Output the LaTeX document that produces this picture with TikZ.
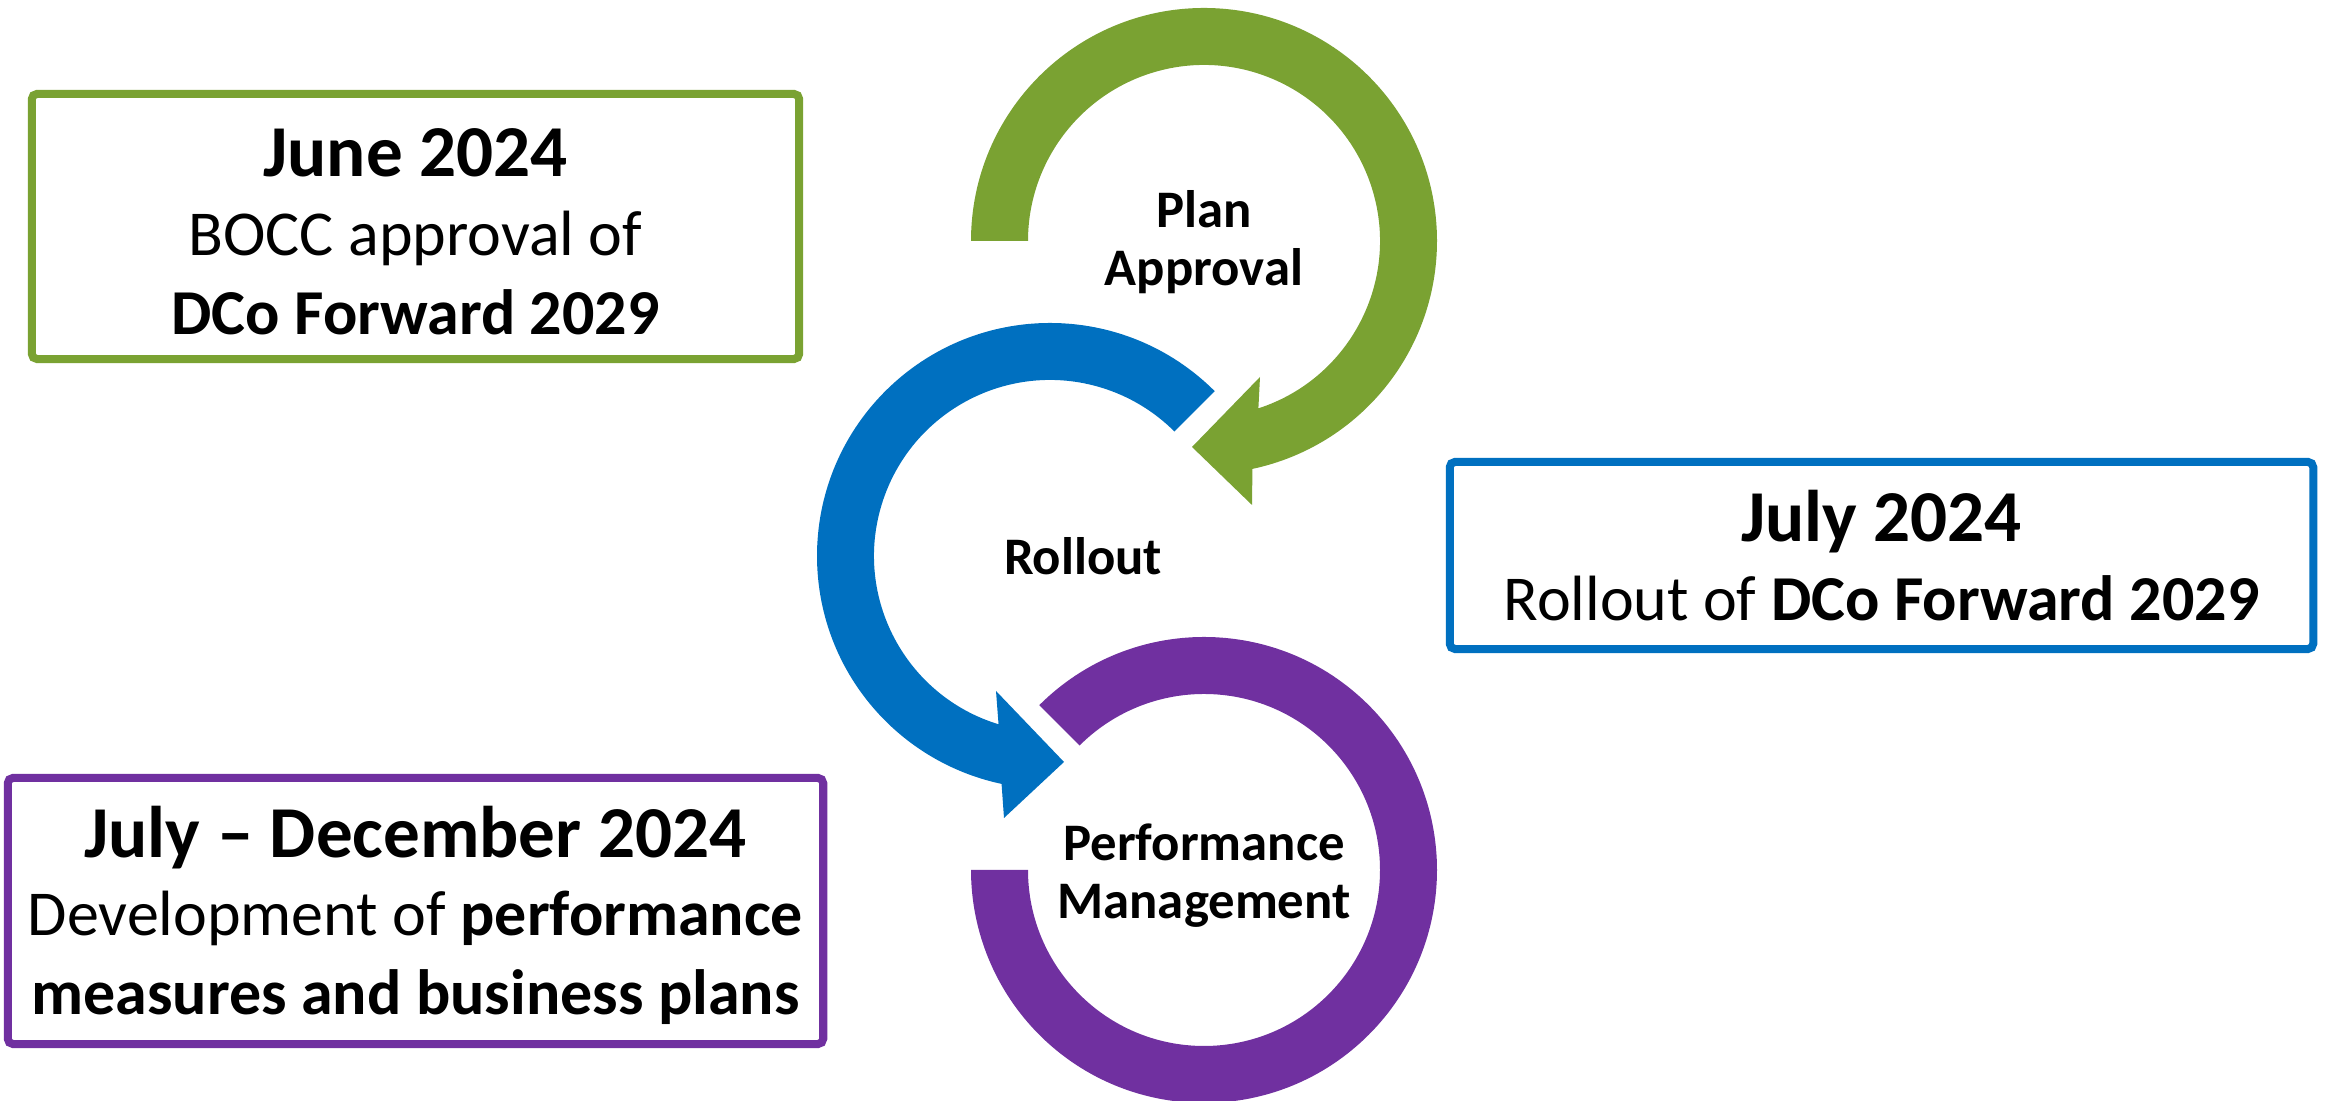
\documentclass[tikz,border=0pt]{standalone}
\usepackage{fontspec}
\setmainfont{Carlito}
\usetikzlibrary{calc}

\definecolor{greenc}{HTML}{7AA232}
\definecolor{bluec}{HTML}{0070C0}
\definecolor{purplec}{HTML}{7030A0}

\tikzset{
  datebox/.style={draw, line width=2.28pt, rounded corners=1.5pt, inner sep=0pt,
    align=center, fill=white, font=\fontsize{18.2}{22.4}\selectfont},
  steplabel/.style={align=center, inner sep=0pt,
    font=\fontsize{15}{16.5}\selectfont\bfseries},
}
\newcommand{\hdr}[1]{{\fontsize{20.8}{22.4}\selectfont\bfseries #1}}

\begin{document}
\begin{tikzpicture}[x=0.01cm, y=0.01cm]
  \useasboundingbox (0,0) rectangle (2329,1101);
  \clip (0,0) rectangle (2329,1101);

  % ring centres
  \coordinate (gc) at (1204,860);
  \coordinate (bc) at (1050,545);
  \coordinate (pc) at (1204,231);

  % green circular arrow: from the left, clockwise, head at lower left
  \fill[greenc] ($(gc)+(180:233)$) arc[start angle=180, end angle=-78, radius=233]
    -- ($(gc)+(48,-264)$) -- ($(gc)+(-12,-206)$) -- ($(gc)+(56,-136)$)
    -- ($(gc)+(-72:176)$) arc[start angle=-72, end angle=180, radius=176] -- cycle;

  % blue circular arrow: from upper right, counter-clockwise, head at lower right
  \fill[bluec] ($(bc)+(45:233)$) arc[start angle=45, end angle=258, radius=233]
    -- ($(bc)+(-46,-262)$) -- ($(bc)+(14,-206)$) -- ($(bc)+(-54,-135)$)
    -- ($(bc)+(253:176)$) arc[start angle=253, end angle=45, radius=176] -- cycle;

  % purple open ring
  \fill[purplec] ($(pc)+(135:233)$) arc[start angle=135, end angle=-180, radius=233]
    -- ($(pc)+(180:176)$) arc[start angle=-180, end angle=135, radius=176] -- cycle;

  % labels inside the rings (base = baseline of the last line)
  \node[steplabel, anchor=base] (plan) at (1204,815) {Plan\\Approval};
  \node[steplabel, anchor=base] (roll) at (1083,526) {Rollout};
  \node[steplabel, anchor=base] (perf) at (1204,182) {Performance\\Management};

  % milestone boxes
  \node[datebox, draw=greenc, minimum width=7.67cm, minimum height=2.65cm]
    (june) at (415.5,874.5)
    {\rule{0pt}{16.5pt}\hdr{June 2024}\\BOCC approval of\\\textbf{DCo Forward 2029}};
  \node[datebox, draw=bluec, minimum width=8.63cm, minimum height=1.87cm]
    (july) at (1881.5,545.5)
    {\hdr{July 2024}\\Rollout of \textbf{DCo Forward 2029}};
  \node[datebox, draw=purplec, minimum width=8.15cm, minimum height=2.66cm]
    (julydec) at (415.5,190)
    {\rule{0pt}{17pt}\hdr{July -- December 2024}\\Development of \textbf{performance}\\\textbf{measures and business plans}};
\end{tikzpicture}
\end{document}
